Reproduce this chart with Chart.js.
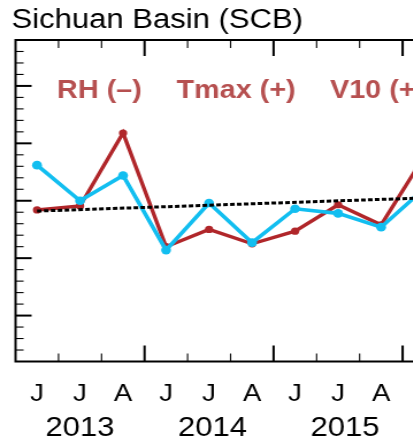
<!DOCTYPE html>
<html>
<head>
<meta charset="utf-8">
<script src="https://cdn.jsdelivr.net/npm/chart.js@4.4.1/dist/chart.umd.min.js"></script>
<style>
html,body{margin:0;padding:0;overflow:hidden;background:#fff;width:413px;height:439px;}
#wrap{position:absolute;left:0;top:0;width:470px;height:439px;transform:scaleX(1.15);transform-origin:0 0;}
canvas{display:block;}
</style>
</head>
<body>
<div id="wrap"><canvas id="c" width="470" height="439" style="width:470px;height:439px"></canvas></div>
<script>
// ---- data ----
const title = 'Sichuan Basin (SCB)';
const factorLabels = ['RH (–)', 'Tmax (+)', 'V10 (+)'];
const months = ['J','J','A','J','J','A','J','J','A','J'];
const years = ['2013','2014','2015'];
const monthX = [0.5,1.5,2.5,3.5,4.5,5.5,6.5,7.5,8.5,9.5];
const redSeries  = [-0.16,-0.09, 1.18,-0.80,-0.50,-0.75,-0.53,-0.07,-0.42, 0.77];
const blueSeries = [ 0.62, 0.00, 0.44,-0.86,-0.04,-0.73,-0.14,-0.22,-0.46, 0.21];
const trendX = [0.5, 11.5];
const trendY = [-0.18, 0.10];

const toXY = (xs, ys) => xs.map((x,i)=>({x:x, y:ys[i]}));

const decor = {
  id:'decor',
  beforeDatasetsDraw(chart){
    const {ctx, chartArea:a, scales:{x, y}} = chart;
    ctx.save();
    ctx.strokeStyle = '#000';
    ctx.lineWidth = 2;
    ctx.strokeRect(a.left, a.top, a.right - a.left, a.bottom - a.top);
    // x ticks (inward, top and bottom)
    for (let v = 1; v < 12; v++) {
      const px = x.getPixelForValue(v);
      const major = v % 3 === 0;
      const len = major ? 16 : 8;
      ctx.lineWidth = major ? 2 : 1.1;
      ctx.beginPath();
      ctx.moveTo(px, a.bottom); ctx.lineTo(px, a.bottom - len);
      ctx.moveTo(px, a.top); ctx.lineTo(px, a.top + len);
      ctx.stroke();
    }
    // y ticks (inward, left)
    for (let k = -13; k <= 13; k++) {
      const py = y.getPixelForValue(k / 5);
      const major = k % 5 === 0;
      const len = major ? 14 : 7;
      ctx.lineWidth = major ? 2 : 1.1;
      ctx.beginPath();
      ctx.moveTo(a.left, py); ctx.lineTo(a.left + len, py);
      ctx.stroke();
    }
    ctx.restore();
  },
  afterDraw(chart){
    const {ctx, scales:{x}} = chart;
    ctx.save();
    ctx.textBaseline = 'alphabetic';
    // title
    ctx.fillStyle = '#000';
    ctx.textAlign = 'left';
    ctx.font = '27px "Liberation Sans", Arial, sans-serif';
    ctx.fillText(title, 10, 28);
    // factor labels
    ctx.fillStyle = 'rgb(182,80,80)';
    ctx.font = 'bold 25px "Liberation Sans", Arial, sans-serif';
    const fx = [49.6, 153.6, 287];
    factorLabels.forEach((t,i)=>ctx.fillText(t, fx[i], 98));
    // month labels
    ctx.fillStyle = '#000';
    ctx.textAlign = 'center';
    ctx.font = '24px "Liberation Sans", Arial, sans-serif';
    months.forEach((m,i)=>ctx.fillText(m, x.getPixelForValue(monthX[i]), 401));
    // year labels
    ctx.font = '27px "Liberation Sans", Arial, sans-serif';
    years.forEach((t,k)=>ctx.fillText(t, x.getPixelForValue(1.5 + 3*k) + 3*k, 436));
    ctx.restore();
  }
};

new Chart(document.getElementById('c'), {
  type:'line',
  data:{
    datasets:[
      {label:'Trend', data:toXY(trendX, trendY), borderColor:'#000', borderWidth:3,
       borderDash:[4,2], pointRadius:0, tension:0, order:0},
      {label:'Blue', data:toXY(monthX, blueSeries), borderColor:'#12BEF0', backgroundColor:'#12BEF0',
       borderWidth:3.6, pointRadius:4.3, pointBorderWidth:0, tension:0, order:1},
      {label:'Red', data:toXY(monthX, redSeries), borderColor:'#B0262A', backgroundColor:'#B0262A',
       borderWidth:3.4, pointRadius:3.6, pointBorderWidth:0, tension:0, order:2}
    ]
  },
  options:{
    responsive:false,
    animation:false,
    devicePixelRatio:1,
    layout:{padding:{left:13.5, top:40, right:7.7, bottom:77.5}},
    scales:{
      x:{type:'linear', min:0, max:12, display:false},
      y:{type:'linear', min:-2.8, max:2.8, display:false}
    },
    plugins:{legend:{display:false}, tooltip:{enabled:false}, title:{display:false}}
  },
  plugins:[decor]
});
</script>
</body>
</html>
